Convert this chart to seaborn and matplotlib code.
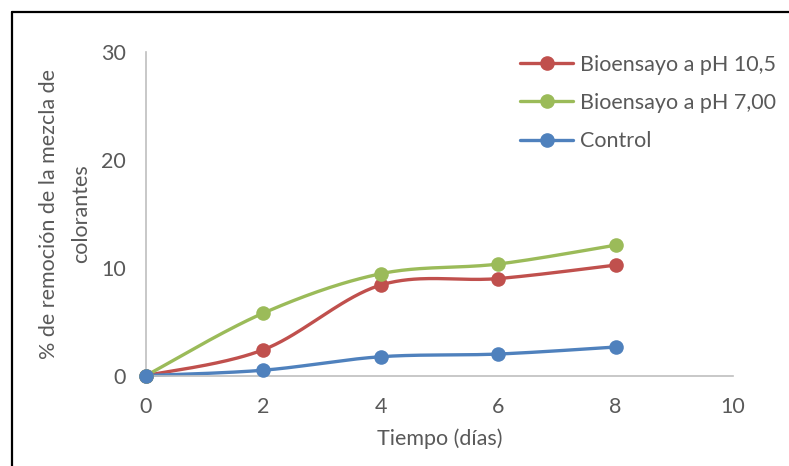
import numpy as np
import pandas as pd
import matplotlib
matplotlib.use("Agg")
import matplotlib.pyplot as plt
import seaborn as sns
from matplotlib.lines import Line2D

dias = [0, 2, 4, 6, 8]
ph105 = [0.0, 2.4, 8.4, 9.0, 10.25]
ph700 = [0.0, 5.8, 9.45, 10.35, 12.1]
control = [0.0, 0.5, 1.75, 2.0, 2.65]
series_names = ["Bioensayo a pH 10,5", "Bioensayo a pH 7,00", "Control"]
colors = ["#C0504D", "#9BBB59", "#4F81BD"]
xticks = [0, 2, 4, 6, 8, 10]
yticks = [0, 10, 20, 30]

sns.set_theme(style="white")
plt.rcParams['font.family'] = ['Lato', 'DejaVu Sans']


def excel_smooth(x, y, n=40):
    x = np.asarray(x, float)
    y = np.asarray(y, float)
    px, py = [], []
    for i in range(len(x) - 1):
        x0, y0 = (x[i - 1], y[i - 1]) if i > 0 else (x[i], y[i])
        x3, y3 = (x[i + 2], y[i + 2]) if i + 2 < len(x) else (x[i + 1], y[i + 1])
        x1, y1, x2, y2 = x[i], y[i], x[i + 1], y[i + 1]
        c1x = x1 + (x2 - x0) / 6
        c1y = y1 + (y2 - y0) / 6
        c2x = x2 - (x3 - x1) / 6
        c2y = y2 - (y3 - y1) / 6
        t = np.linspace(0, 1, n)
        bx = (1 - t) ** 3 * x1 + 3 * (1 - t) ** 2 * t * c1x + 3 * (1 - t) * t ** 2 * c2x + t ** 3 * x2
        by = (1 - t) ** 3 * y1 + 3 * (1 - t) ** 2 * t * c1y + 3 * (1 - t) * t ** 2 * c2y + t ** 3 * y2
        px.extend(bx)
        py.extend(by)
    return np.array(px), np.array(py)


fig = plt.figure(figsize=(7.89, 4.66), dpi=100)
ax = fig.add_axes([0.185, 0.194, 0.744, 0.694])

handles = []
for name, vals, col in zip(series_names, [ph105, ph700, control], colors):
    sx, sy = excel_smooth(dias, vals)
    smooth_df = pd.DataFrame({"x": sx, "y": sy})
    sns.lineplot(data=smooth_df, x="x", y="y", sort=False, color=col, lw=2.4, ax=ax)
    pts = pd.DataFrame({"x": dias, "y": vals})
    sns.scatterplot(data=pts, x="x", y="y", color=col, s=110, edgecolor=col, linewidth=0, ax=ax, zorder=3)
    handles.append(Line2D([0], [0], color=col, lw=2.4, marker="o", markersize=9.5))

ax.set_xlim(0, 10)
ax.set_ylim(0, 30)
ax.set_xticks(xticks)
ax.set_yticks(yticks)
for s in ["top", "right"]:
    ax.spines[s].set_visible(False)
for s in ["left", "bottom"]:
    ax.spines[s].set_color("#BFBFBF")
    ax.spines[s].set_linewidth(1.2)
ax.tick_params(axis="both", direction="out", length=4.5, width=1.2, color="#BFBFBF",
               labelsize=15.5, labelcolor="#595959")
ax.tick_params(axis="y", pad=10)
ax.tick_params(axis="x", pad=11)
ax.set_xlabel("Tiempo (días)", fontsize=15.5, color="#595959", labelpad=8)
ax.set_ylabel("% de remoción de la mezcla de\ncolorantes", fontsize=15.5, color="#595959",
              labelpad=7, linespacing=1.75)
for c in ax.collections + ax.lines:
    c.set_clip_on(False)

leg = ax.legend(handles, series_names, loc="upper left", bbox_to_anchor=(0.646, 0.906),
                bbox_transform=fig.transFigure, frameon=False, fontsize=15.5,
                labelspacing=0.85, handlelength=2.45, handletextpad=0.3, borderpad=0)
for t in leg.get_texts():
    t.set_color("#595959")

fig.add_artist(Line2D([0.015, 0.015], [0.0, 0.975], transform=fig.transFigure, color="black", lw=1.6))
fig.add_artist(Line2D([0.015, 1.0], [0.975, 0.975], transform=fig.transFigure, color="black", lw=1.6))

fig.savefig("out.png", dpi=100)
